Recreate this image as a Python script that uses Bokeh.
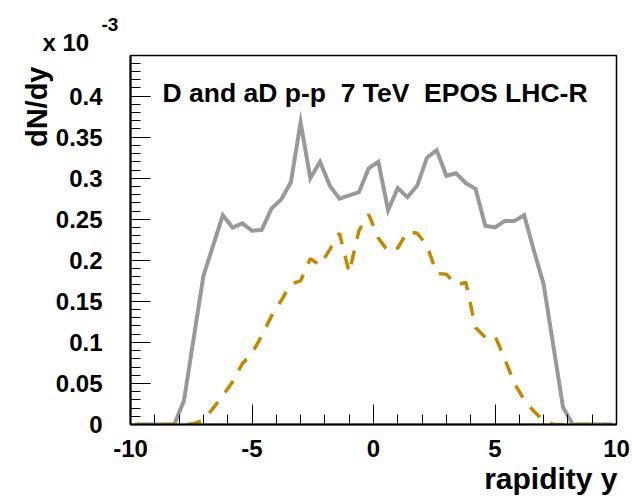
import math
from bokeh.plotting import figure
from bokeh.models import Range1d, FixedTicker, Label, Title
from bokeh.embed import file_html
from bokeh.resources import INLINE

# rapidity bin centres (bin width 0.4)
rapidity = [-9.8, -9.4, -9.0, -8.6, -8.2, -7.8, -7.4, -7.0, -6.6, -6.2,
            -5.8, -5.4, -5.0, -4.6, -4.2, -3.8, -3.4, -3.0, -2.6, -2.2,
            -1.8, -1.4, -1.0, -0.6, -0.2, 0.2, 0.6, 1.0, 1.4, 1.8,
            2.2, 2.6, 3.0, 3.4, 3.8, 4.2, 4.6, 5.0, 5.4, 5.8,
            6.2, 6.6, 7.0, 7.4, 7.8, 8.2, 8.6, 9.0, 9.4, 9.8]

# dN/dy in units of 1e-3, grey solid curve
dndy_grey = [0, 0, 0, 0, 0, 0.029, 0.105, 0.181, 0.218, 0.255,
             0.240, 0.245, 0.236, 0.237, 0.263, 0.274, 0.295, 0.368, 0.300, 0.320,
             0.291, 0.275, 0.279, 0.283, 0.312, 0.320, 0.261, 0.288, 0.277, 0.291,
             0.325, 0.334, 0.303, 0.306, 0.294, 0.287, 0.242, 0.240, 0.248, 0.248,
             0.255, 0.212, 0.171, 0.096, 0.021, 0, 0, 0, 0, 0]

# dN/dy in units of 1e-3, orange dashed curve
dndy_orange = [0, 0, 0, 0, 0, 0, 0.001, 0.005, 0.020, 0.035,
               0.052, 0.074, 0.087, 0.108, 0.132, 0.151, 0.171, 0.175, 0.202, 0.194,
               0.213, 0.233, 0.185, 0.236, 0.256, 0.227, 0.211, 0.215, 0.235, 0.233,
               0.218, 0.184, 0.183, 0.170, 0.173, 0.118, 0.106, 0.108, 0.080, 0.050,
               0.030, 0.016, 0.0045, 0, 0, 0, 0, 0, 0, 0]

x_major = [-10, -5, 0, 5, 10]
x_tick_labels = ["-10", "-5", "0", "5", "10"]
x_minor = [-10, -9, -8, -7, -6, -5, -4, -3, -2, -1, 0, 1, 2, 3, 4, 5, 6, 7, 8, 9, 10]
y_major = [0, 0.05, 0.1, 0.15, 0.2, 0.25, 0.3, 0.35, 0.4]
y_tick_labels = ["0", "0.05", "0.1", "0.15", "0.2", "0.25", "0.3", "0.35", "0.4"]
y_minor = [i / 100 for i in range(0, 45)]

FONT = "Liberation Sans"

p = figure(width=632, height=499, output_backend="svg", toolbar_location=None,
           x_range=Range1d(-10, 10), y_range=Range1d(0, 0.4495),
           min_border_left=130, min_border_right=16, min_border_top=55,
           min_border_bottom=75)
p.background_fill_color = "white"
p.border_fill_color = "white"
p.outline_line_color = "black"
p.outline_line_width = 1.5
p.xgrid.visible = False
p.ygrid.visible = False

p.xaxis.ticker = FixedTicker(ticks=x_major, minor_ticks=x_minor)
p.yaxis.ticker = FixedTicker(ticks=y_major, minor_ticks=y_minor)
p.xaxis.major_label_overrides = dict(zip(x_major, x_tick_labels))
p.yaxis.major_label_overrides = dict(zip(y_major, y_tick_labels))

for ax in (p.xaxis, p.yaxis):
    ax.axis_line_color = "black"
    ax.axis_line_width = 2
    ax.major_tick_in = 20
    ax.major_tick_out = 0
    ax.minor_tick_in = 10
    ax.minor_tick_out = 0
    ax.major_tick_line_color = "black"
    ax.minor_tick_line_color = "black"
    ax.major_tick_line_width = 1
    ax.minor_tick_line_width = 1
    ax.major_label_text_font = FONT
    ax.major_label_text_font_style = "bold"
    ax.major_label_text_font_size = "24px"
    ax.major_label_text_color = "black"
p.xaxis.major_label_standoff = 15
p.yaxis.major_label_standoff = 28

p.line(rapidity, dndy_grey, line_color="#999999", line_width=4, line_join="miter")
p.line(rapidity, dndy_orange, line_color="#c08a00", line_width=3.5,
       line_dash="14 12")

# label inside the frame
p.add_layout(Label(x=32, y=331.7, x_units="screen", y_units="screen",
                   text="D and aD p-p\u00a0 7 TeV\u00a0 EPOS LHC-R",
                   text_font=FONT, text_font_style="bold", text_font_size="26.5px",
                   text_color="black", text_align="left", text_baseline="alphabetic"))

def title(text, place, size, align, offset=0, standoff=0):
    t = Title(text=text, align=align, offset=offset, standoff=standoff,
              text_font=FONT, text_font_style="bold", text_font_size=size,
              text_color="black")
    p.add_layout(t, place)

title("rapidity y", "below", "30px", "right", offset=-1)
title("dN/dy", "left", "29px", "right", offset=11)
title("x 10", "above", "24px", "left", offset=-88)
title("-3", "above", "19px", "left", offset=-29, standoff=-9)

open("out.html", "w").write(file_html(p, INLINE))
